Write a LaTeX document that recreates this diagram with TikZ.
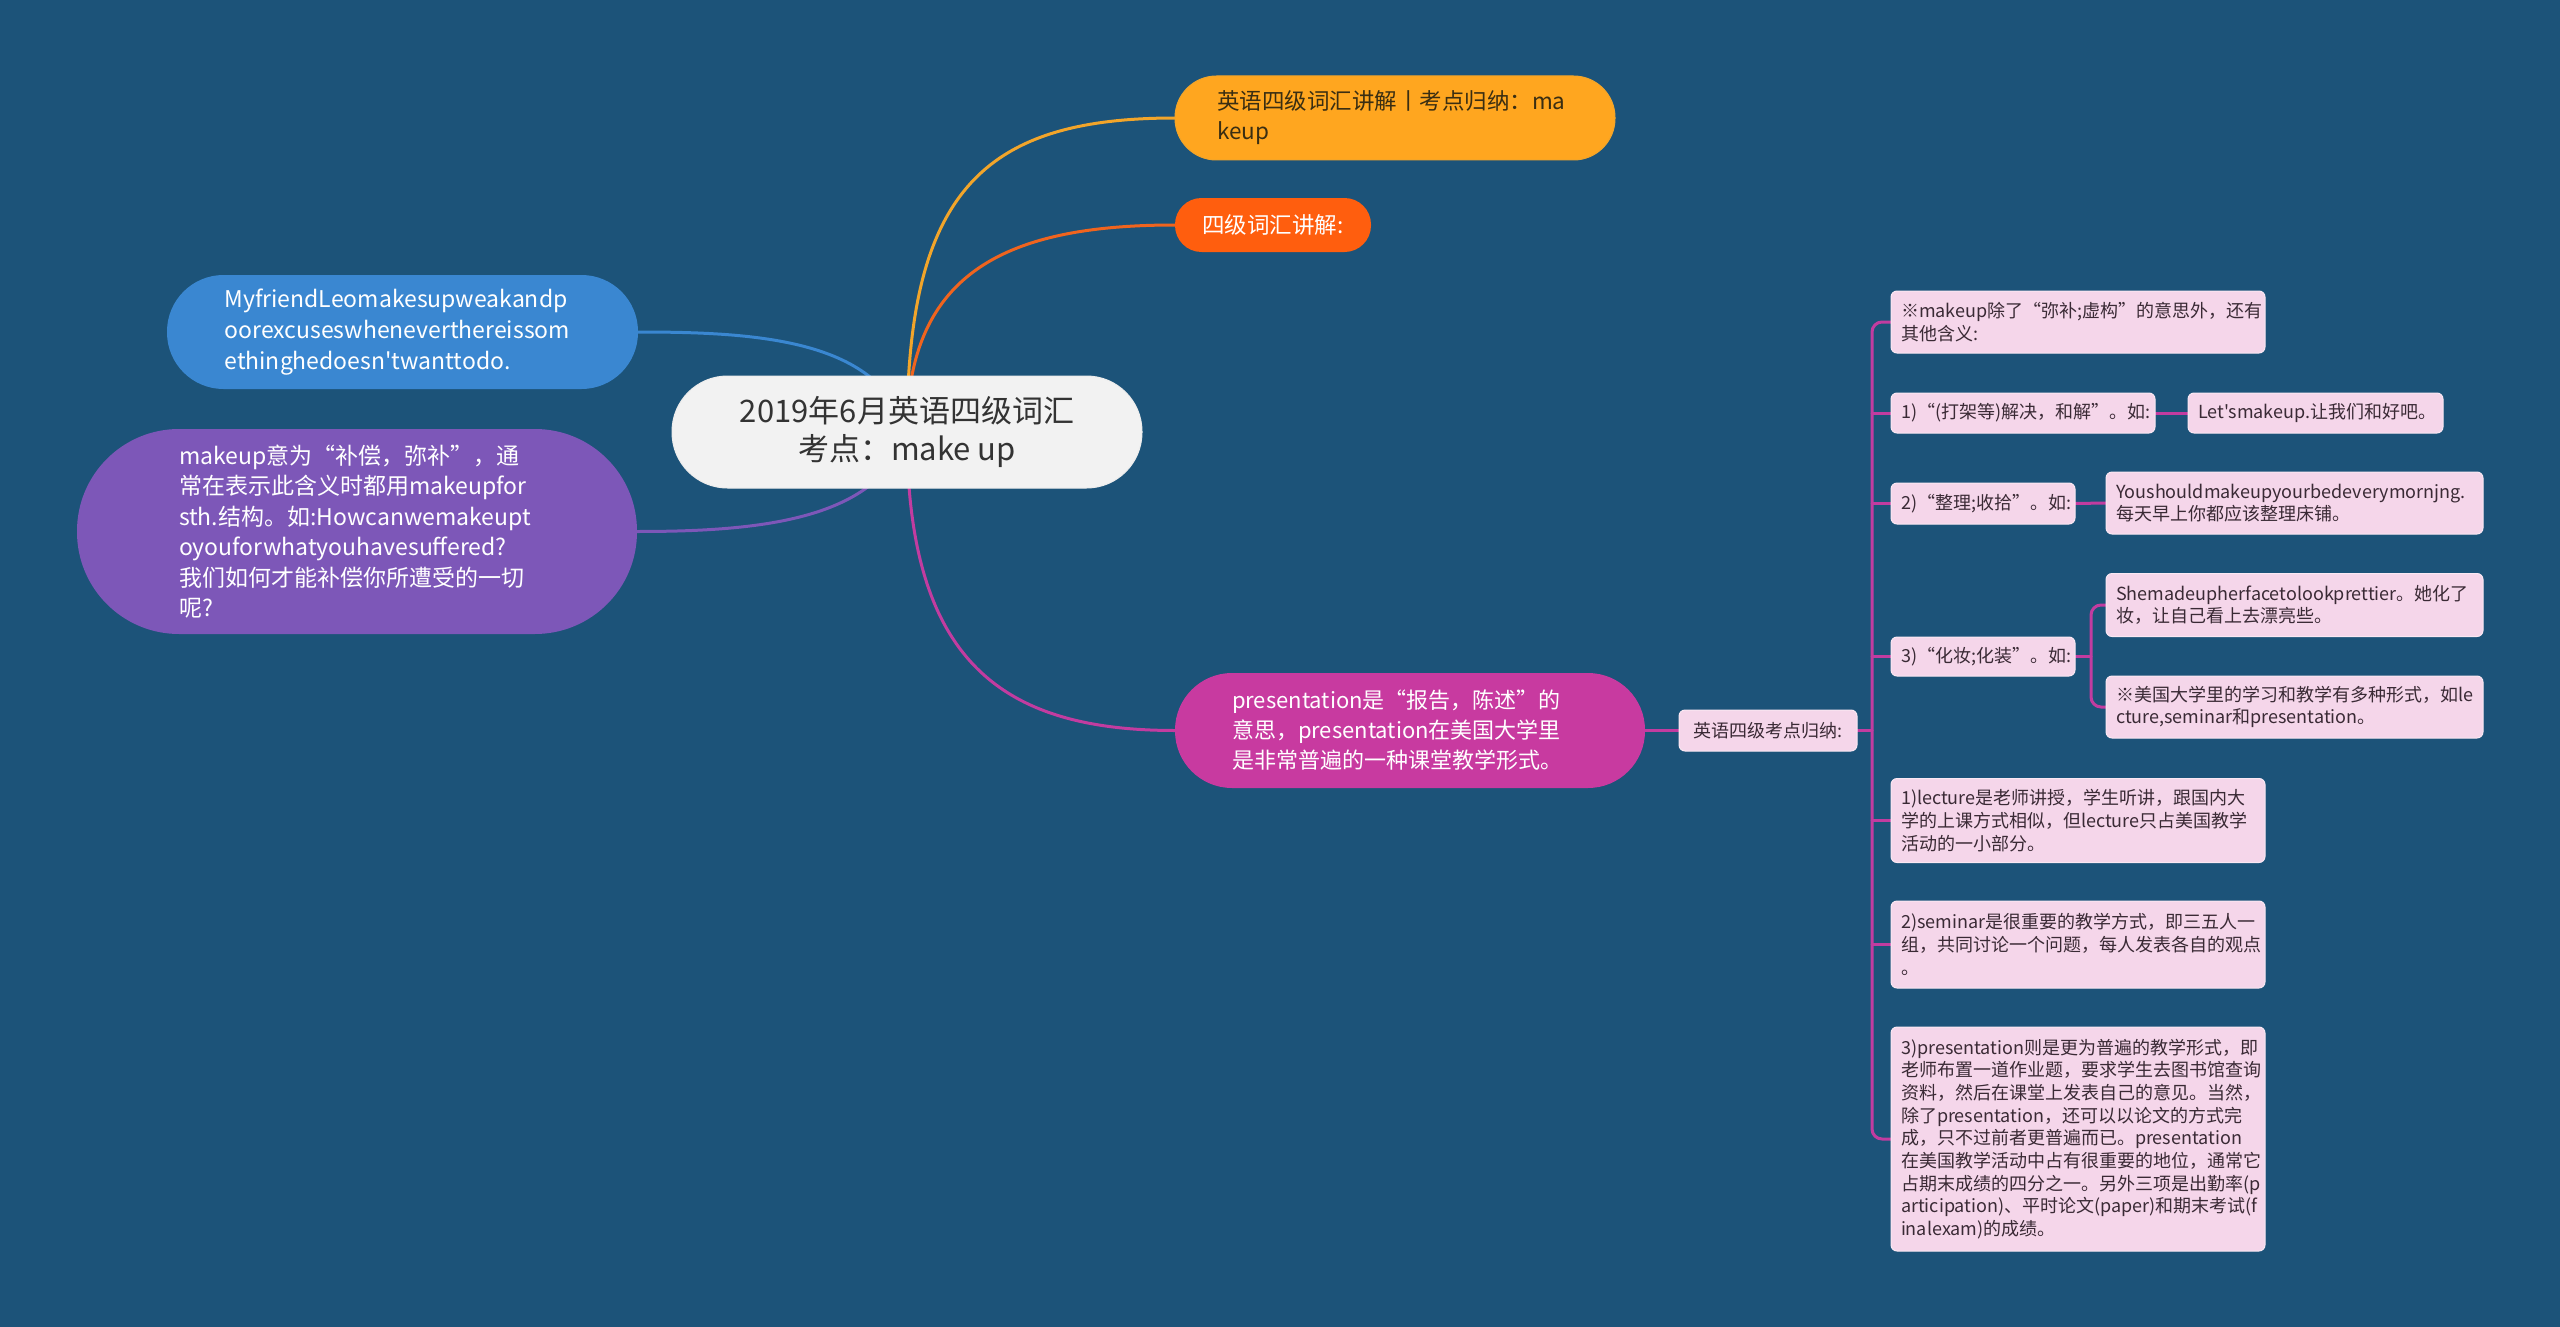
\documentclass[tikz,border=0pt]{standalone}
\usepackage{fontspec}
\setmainfont{Noto Sans CJK SC}[Ligatures=TeXOff]
\usetikzlibrary{backgrounds}
\definecolor{bgc}{HTML}{1C5379}
\definecolor{rootfill}{HTML}{F2F2F2}
\definecolor{roottext}{HTML}{333333}
\definecolor{orangefill}{HTML}{FFA61F}
\definecolor{orangeline}{HTML}{F2A52A}
\definecolor{redfill}{HTML}{FF5E0E}
\definecolor{redline}{HTML}{F0641E}
\definecolor{bluefill}{HTML}{3A87D1}
\definecolor{purplefill}{HTML}{7D57B8}
\definecolor{magfill}{HTML}{C83AA0}
\definecolor{magline}{HTML}{C23CA0}
\definecolor{leaffill}{HTML}{F5D6EA}
\definecolor{leafedge}{HTML}{FAE8F3}
\definecolor{leaftext}{HTML}{3A2A35}
\definecolor{darktext}{HTML}{3A2E12}
\begin{document}
\begin{tikzpicture}[x=1pt,y=-1pt,
  every node/.style={inner sep=0pt,outer sep=0pt},
  pillbox/.style={align=left,text width=356pt},
  leafbox/.style={fill=leaffill,draw=leafedge,line width=1pt,rounded corners=6pt,
    text=leaftext,font=\fontsize{18}{22.7}\selectfont,align=left,inner xsep=10pt},
  conn/.style={line width=3pt,line cap=round}]
\useasboundingbox (0,0) rectangle (2560,1327);

% root
\node[fill=rootfill,draw=white!85!gray,line width=1pt,text=roottext,rounded corners=55.5pt,
  minimum width=470pt,minimum height=112pt,align=center,
  font=\fontsize{31}{38}\selectfont] (root) at (907,432)
  {2019年6月英语四级词汇\\考点：make up};

% first level
\node[pillbox,fill=orangefill,draw=orangeline,line width=1pt,rounded corners=41.5pt,
  minimum height=84pt,inner xsep=42pt,text=darktext,
  font=\fontsize{22.5}{30}\selectfont] (orange) at (1395,118)
  {英语四级词汇讲解丨考点归纳：ma\\keup};
\node[fill=redfill,rounded corners=26.5pt,minimum width=196pt,minimum height=54pt,
  text=white,font=\fontsize{22.5}{30}\selectfont] (red) at (1273,225) {四级词汇讲解:};
\node[pillbox,fill=bluefill,rounded corners=56.5pt,minimum height=114pt,inner xsep=57.5pt,
  text=white,font=\fontsize{23}{31}\selectfont] (blue) at (402.5,332)
  {MyfriendLeomakesupweakandp\\oorexcuseswheneverthereissom\\ethinghedoesn'twanttodo.};
\node[pillbox,fill=purplefill,rounded corners=102pt,minimum height=205pt,inner xsep=102pt,
  text=white,font=\fontsize{23}{30.5}\selectfont] (purple) at (357,531.5)
  {makeup意为“补偿，弥补”，通\\常在表示此含义时都用makeupfor\\sth.结构。如:Howcanwemakeupt\\oyouforwhatyouhavesuffered?\\我们如何才能补偿你所遭受的一切\\呢?};
\node[pillbox,fill=magfill,rounded corners=57pt,minimum height=115pt,inner xsep=57pt,
  text=white,font=\fontsize{22}{30}\selectfont] (mag) at (1410,730.5)
  {presentation是“报告，陈述”的\\意思，presentation在美国大学里\\是非常普遍的一种课堂教学形式。};

% label
\node[leafbox,minimum width=178pt,minimum height=41pt,align=center] (lab) at (1768,730.5)
  {英语四级考点归纳:};

% leaves
\node[leafbox,text width=354pt,minimum height=62pt] (L1) at (2078,322)
  {※makeup除了“弥补;虚构”的意思外，还有\\其他含义:};
\node[leafbox,text width=244pt,minimum height=40pt] (L2) at (2023,413)
  {1)“(打架等)解决，和解”。如:};
\node[leafbox,text width=235pt,minimum height=40pt] (L3) at (2315.5,413)
  {Let'smakeup.让我们和好吧。};
\node[leafbox,text width=164pt,minimum height=41pt] (L4) at (1983,503.5)
  {2)“整理;收拾”。如:};
\node[leafbox,text width=357pt,minimum height=62pt] (L5) at (2294.5,503)
  {Youshouldmakeupyourbedeverymornjng.\\每天早上你都应该整理床铺。};
\node[leafbox,text width=164pt,minimum height=39pt] (L6) at (1983,656.5)
  {3)“化妆;化装”。如:};
\node[leafbox,text width=357pt,minimum height=63pt] (L7) at (2294.5,605)
  {Shemadeupherfacetolookprettier。她化了\\妆，让自己看上去漂亮些。};
\node[leafbox,text width=357pt,minimum height=62pt] (L8) at (2294.5,707)
  {※美国大学里的学习和教学有多种形式，如le\\cture,seminar和presentation。};
\node[leafbox,text width=354pt,minimum height=84pt] (L9) at (2078,820.5)
  {1)lecture是老师讲授，学生听讲，跟国内大\\学的上课方式相似，但lecture只占美国教学\\活动的一小部分。};
\node[leafbox,text width=354pt,minimum height=87pt] (L10) at (2078,944.5)
  {2)seminar是很重要的教学方式，即三五人一\\组，共同讨论一个问题，每人发表各自的观点\\。};
\node[leafbox,text width=354pt,minimum height=224pt] (L11) at (2078,1139)
  {3)presentation则是更为普遍的教学形式，即\\老师布置一道作业题，要求学生去图书馆查询\\资料，然后在课堂上发表自己的意见。当然，\\除了presentation，还可以以论文的方式完\\成，只不过前者更普遍而已。presentation\\在美国教学活动中占有很重要的地位，通常它\\占期末成绩的四分之一。另外三项是出勤率(p\\articipation)、平时论文(paper)和期末考试(f\\inalexam)的成绩。};

\coordinate (tk) at (1872,730.5);
\coordinate (sb) at (2091,656.5);

\begin{pgfonlayer}{background}
\fill[bgc] (0,0) rectangle (2560,1327);
\draw[conn,orangeline] (root.center) .. controls (907,190) and (985,118) .. (orange.west);
\draw[conn,redline] (root.center) .. controls (907,270) and (1010,225) .. (red.west);
\draw[conn,bluefill] (root.center) .. controls (880,340) and (760,332) .. (blue.east);
\draw[conn,purplefill] (root.center) .. controls (880,520) and (760,531.5) .. (purple.east);
\draw[conn,magline] (root.center) .. controls (907,660) and (1000,730.5) .. (mag.west);
\draw[conn,magline] (mag.east) -- (lab.west);
\draw[conn,magline] (lab.east) -- (tk);
\draw[conn,magline,rounded corners=10pt] (L1.west) -| (tk) |- (L11.west);
\draw[conn,magline] (tk |- L2.west) -- (L2.west);
\draw[conn,magline] (tk |- L4.west) -- (L4.west);
\draw[conn,magline] (tk |- L6.west) -- (L6.west);
\draw[conn,magline] (tk |- L9.west) -- (L9.west);
\draw[conn,magline] (tk |- L10.west) -- (L10.west);
\draw[conn,magline] (L2.east) -- (L3.west);
\draw[conn,magline] (L4.east) -- (L5.west);
\draw[conn,magline] (L6.east) -- (sb);
\draw[conn,magline,rounded corners=10pt] (L7.west) -| (sb) |- (L8.west);
\end{pgfonlayer}
\end{tikzpicture}
\end{document}
